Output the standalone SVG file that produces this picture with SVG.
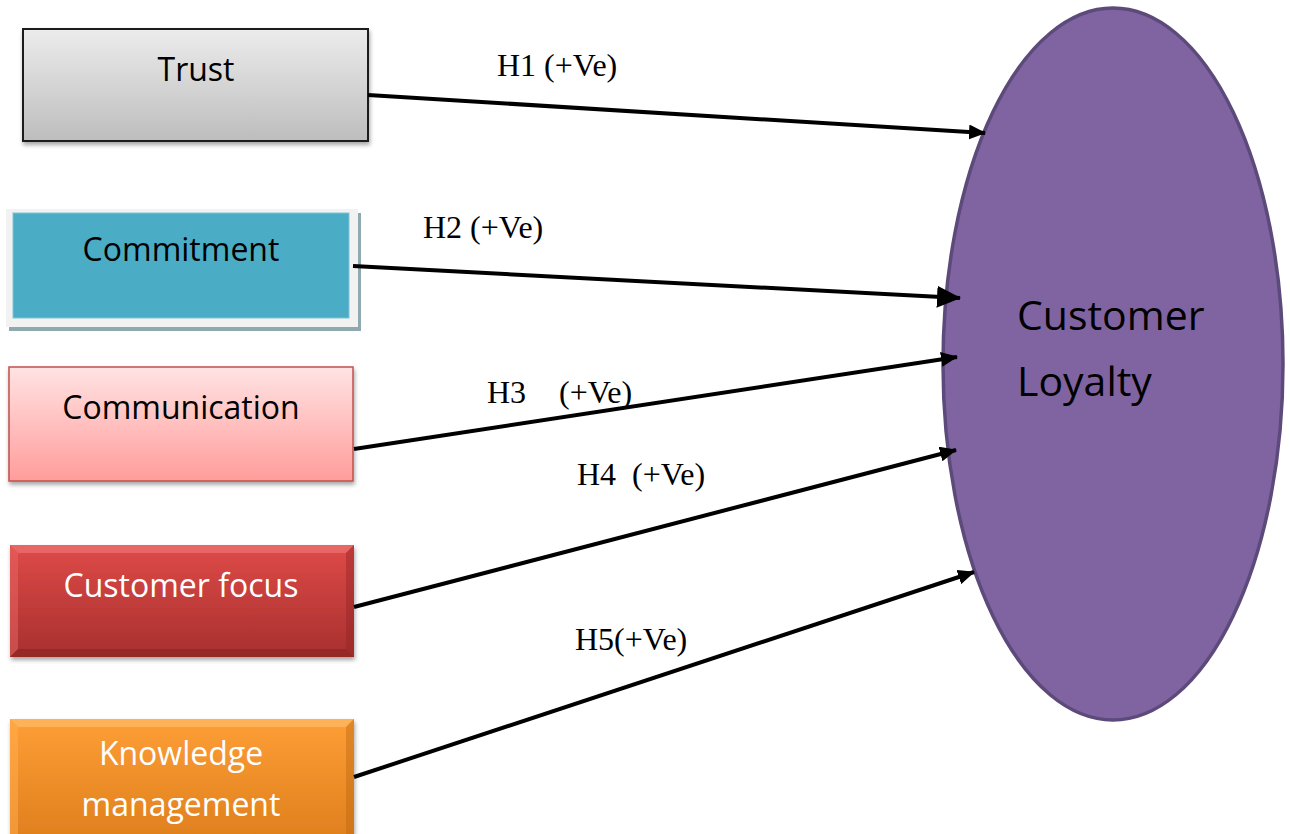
<svg xmlns="http://www.w3.org/2000/svg" width="1290" height="834" viewBox="0 0 1290 834">
  <style>
    .box { font-family: "Open Sans", "Noto Sans", sans-serif; font-size: 32px; text-anchor: middle; }
    .dark { fill: #000000; }
    .light { fill: #ffffff; }
    .lbl { font-family: "Liberation Serif", "Times New Roman", serif; font-size: 32px; fill: #000000; }
    .conn { stroke: #000000; stroke-width: 4; fill: none; }
  </style>
  <defs>
    <linearGradient id="gGray" x1="0" y1="0" x2="0" y2="1">
      <stop offset="0" stop-color="#ececec"/>
      <stop offset="1" stop-color="#bdbdbd"/>
    </linearGradient>
    <linearGradient id="gPink" x1="0" y1="0" x2="0" y2="1">
      <stop offset="0" stop-color="#ffe3e3"/>
      <stop offset="1" stop-color="#ff9d9b"/>
    </linearGradient>
    <linearGradient id="gRed" x1="0" y1="0" x2="0" y2="1">
      <stop offset="0" stop-color="#de4a48"/>
      <stop offset="1" stop-color="#a8302e"/>
    </linearGradient>
    <linearGradient id="gOrange" x1="0" y1="0" x2="0" y2="1">
      <stop offset="0" stop-color="#fd9e36"/>
      <stop offset="1" stop-color="#e0801e"/>
    </linearGradient>
    <filter id="shadow" x="-10%" y="-10%" width="120%" height="130%">
      <feDropShadow dx="1" dy="3" stdDeviation="2" flood-color="#000000" flood-opacity="0.35"/>
    </filter>
    <marker id="arrow" markerUnits="userSpaceOnUse" markerWidth="17" markerHeight="15" refX="16" refY="7.5" orient="auto">
      <path d="M0,0 L17,7.5 L0,15 Z" fill="#000000"/>
    </marker>
    <marker id="arrowBig" markerUnits="userSpaceOnUse" markerWidth="24" markerHeight="22" refX="23" refY="11" orient="auto">
      <path d="M0,0 L24,11 L0,22 Z" fill="#000000"/>
    </marker>
  </defs>

  <rect width="1290" height="834" fill="#ffffff"/>

  <g id="trust">
    <rect x="23" y="29" width="345" height="112" fill="url(#gGray)" stroke="#1a1a1a" stroke-width="2" filter="url(#shadow)"/>
    <text class="box dark" x="196" y="81">Trust</text>
  </g>

  <g id="commitment">
    <rect x="9" y="213" width="352" height="118" fill="#8fa9b1"/>
    <rect x="6" y="209" width="352" height="118" fill="#f2f2f2"/>
    <rect x="13" y="213" width="336" height="105" fill="#4bacc6" stroke="#7fc3d6" stroke-width="1"/>
    <text class="box dark" x="181" y="261">Commitment</text>
  </g>

  <g id="communication">
    <rect x="9" y="367" width="344" height="114" fill="url(#gPink)" stroke="#c0504d" stroke-width="1.5" filter="url(#shadow)"/>
    <text class="box dark" x="181" y="419">Communication</text>
  </g>

  <g id="customer-focus">
    <rect x="10" y="545" width="344" height="112" fill="url(#gRed)" filter="url(#shadow)"/>
    <path d="M10,545 L354,545 L346,553 L18,553 Z" fill="#f07a78" opacity="0.6"/>
    <path d="M10,545 L18,553 L18,649 L10,657 Z" fill="#e86866" opacity="0.5"/>
    <path d="M354,545 L346,553 L346,649 L354,657 Z" fill="#8c2422" opacity="0.4"/>
    <path d="M10,657 L18,649 L346,649 L354,657 Z" fill="#7c1f1d" opacity="0.45"/>
    <text class="box light" x="181" y="597">Customer focus</text>
  </g>

  <g id="knowledge-management">
    <rect x="10" y="719" width="344" height="118" fill="url(#gOrange)" filter="url(#shadow)"/>
    <path d="M10,719 L354,719 L346,727 L18,727 Z" fill="#ffc070" opacity="0.6"/>
    <path d="M10,719 L18,727 L18,834 L10,834 Z" fill="#ffb050" opacity="0.5"/>
    <path d="M354,719 L346,727 L346,834 L354,834 Z" fill="#b8640e" opacity="0.4"/>
    <text class="box light" x="181" y="765">Knowledge</text>
    <text class="box light" x="181" y="816">management</text>
  </g>

  <g id="customer-loyalty">
    <ellipse cx="1113" cy="364" rx="170" ry="356" fill="#8064a2" stroke="#5c4a7b" stroke-width="3.5"/>
    <text class="box dark" x="1017" y="330" style="text-anchor:start; font-size:41px">Customer</text>
    <text class="box dark" x="1017" y="396" style="text-anchor:start; font-size:41px">Loyalty</text>
  </g>

  <g id="connectors">
    <line class="conn" x1="368" y1="95" x2="985" y2="133" marker-end="url(#arrow)"/>
    <line class="conn" x1="353" y1="266" x2="960" y2="298" stroke-width="6" marker-end="url(#arrowBig)"/>
    <line class="conn" x1="354" y1="449" x2="957" y2="357" marker-end="url(#arrow)"/>
    <line class="conn" x1="354" y1="607" x2="956" y2="450" marker-end="url(#arrow)"/>
    <line class="conn" x1="354" y1="777" x2="974" y2="572" marker-end="url(#arrow)"/>
  </g>

  <g id="labels">
    <text class="lbl" x="497" y="76">H1 (+Ve)</text>
    <text class="lbl" x="423" y="238">H2 (+Ve)</text>
    <text class="lbl" x="487" y="403">H3<tspan x="559">(+Ve)</tspan></text>
    <text class="lbl" x="577" y="485">H4<tspan x="632">(+Ve)</tspan></text>
    <text class="lbl" x="575" y="650">H5(+Ve)</text>
  </g>
</svg>
